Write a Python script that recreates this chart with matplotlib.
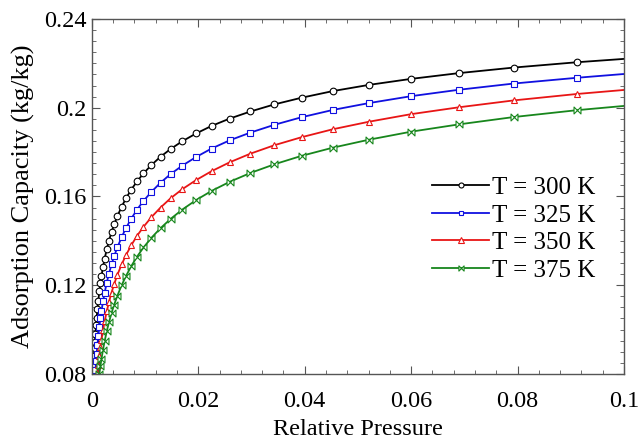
import matplotlib
matplotlib.use("Agg")
import matplotlib.pyplot as plt
from matplotlib.path import Path
from matplotlib.ticker import MultipleLocator, FormatStrFormatter

plt.rcParams['font.family'] = ['Liberation Serif', 'DejaVu Serif']
plt.rcParams['mathtext.fontset'] = 'stix'

# relative pressure (ascending), last point 0.1 is the curve end (no marker)
pressure = [0.0003, 0.00034, 0.00039, 0.00045, 0.00052, 0.00059, 0.00068, 0.00079,
            0.0009, 0.00104, 0.0012, 0.0014, 0.0016, 0.0018, 0.0021, 0.0024,
            0.0028, 0.0032, 0.0037, 0.0042, 0.0048, 0.0056, 0.0064, 0.0074,
            0.0085, 0.0097, 0.0112, 0.0129, 0.0148, 0.0170, 0.0196, 0.0225,
            0.0259, 0.0298, 0.0343, 0.0394, 0.0453, 0.0521, 0.0600, 0.0690,
            0.0793, 0.0912, 0.1]

w_300 = [0.0784, 0.0812, 0.0845, 0.0880, 0.0915, 0.0946, 0.0982, 0.1020,
         0.1054, 0.1092, 0.1130, 0.1172, 0.1208, 0.1241, 0.1283, 0.1320,
         0.1362, 0.1400, 0.1440, 0.1475, 0.1512, 0.1554, 0.1591, 0.1631,
         0.1668, 0.1704, 0.1742, 0.1779, 0.1814, 0.1849, 0.1884, 0.1918,
         0.1951, 0.1983, 0.2015, 0.2045, 0.2075, 0.2103, 0.2130, 0.2156,
         0.2181, 0.2205, 0.2220]
w_325 = [0.0783, 0.0819, 0.0857, 0.0892, 0.0930, 0.0969, 0.1012, 0.1050,
         0.1083, 0.1128, 0.1166, 0.1212, 0.1251, 0.1294, 0.1332, 0.1371,
         0.1417, 0.1457, 0.1500, 0.1541, 0.1580, 0.1621, 0.1662, 0.1701,
         0.1739, 0.1778, 0.1816, 0.1853, 0.1888, 0.1923, 0.1957, 0.1990,
         0.2021, 0.2052, 0.2081, 0.2109, 0.2135, 0.2152]
w_350 = [0.0765, 0.0803, 0.0841, 0.0883, 0.0920, 0.0954, 0.0998, 0.1037,
         0.1083, 0.1123, 0.1167, 0.1206, 0.1247, 0.1294, 0.1335, 0.1380,
         0.1423, 0.1463, 0.1507, 0.1550, 0.1592, 0.1633, 0.1674, 0.1714,
         0.1754, 0.1793, 0.1831, 0.1867, 0.1903, 0.1937, 0.1971, 0.2002,
         0.2033, 0.2062, 0.2080]
w_375 = [0.0759, 0.0799, 0.0835, 0.0867, 0.0910, 0.0948, 0.0993, 0.1032,
         0.1075, 0.1113, 0.1153, 0.1200, 0.1241, 0.1286, 0.1329, 0.1370,
         0.1414, 0.1457, 0.1499, 0.1541, 0.1584, 0.1625, 0.1666, 0.1706,
         0.1745, 0.1783, 0.1820, 0.1856, 0.1892, 0.1925, 0.1958, 0.1989,
         0.2008]

labels = ["T = 300 K", "T = 325 K", "T = 350 K", "T = 375 K"]

bowtie = Path([(-1, 1), (1, -1), (1, 1), (-1, -1), (-1, 1)],
              [Path.MOVETO, Path.LINETO, Path.LINETO, Path.LINETO, Path.CLOSEPOLY])

series = [
    (w_300, "black", "o", 4.8),
    (w_325, "#1010e0", "s", 4.8),
    (w_350, "#e81515", "^", 5.0),
    (w_375, "#17861c", bowtie, 5.0),
]

fig = plt.figure(figsize=(6.38, 4.41), dpi=100)
ax = fig.add_axes([0.144, 0.152, 0.834, 0.805])

for (w, col, mk, ms), lab in zip(series, labels):
    n = len(w)
    x = pressure[-n:]
    ax.plot(x, w, color=col, lw=1.3, marker=mk, ms=ms, mfc="white",
            mec=col, mew=0.8, markevery=list(range(n - 1)), label=lab)

ax.set_xlim(0, 0.1)
ax.set_ylim(0.08, 0.24)
ax.xaxis.set_major_locator(MultipleLocator(0.02))
ax.xaxis.set_minor_locator(MultipleLocator(0.004))
ax.yaxis.set_major_locator(MultipleLocator(0.04))
ax.yaxis.set_minor_locator(MultipleLocator(0.005))
ax.xaxis.set_major_formatter(FormatStrFormatter('%g'))
ax.yaxis.set_major_formatter(FormatStrFormatter('%g'))
ax.tick_params(which='both', direction='in', top=True, right=True,
               color='#555555', labelsize=17.5)
ax.tick_params(axis='x', which='major', length=6, pad=12)
ax.tick_params(axis='y', which='major', length=6, pad=4)
ax.tick_params(which='minor', length=3)
for s in ax.spines.values():
    s.set_color('#555555')
    s.set_linewidth(1.0)

ax.set_xlabel("Relative Pressure", fontsize=17.5, labelpad=5)
ax.set_ylabel("Adsorption Capacity (kg/kg)", fontsize=19, labelpad=6)

ax.legend(loc='lower right', bbox_to_anchor=(0.965, 0.232), frameon=False,
          fontsize=18, handlelength=2.3, handletextpad=0.1, labelspacing=0.2,
          borderaxespad=0, markerscale=0.75)

fig.savefig("out.png", dpi=100)
